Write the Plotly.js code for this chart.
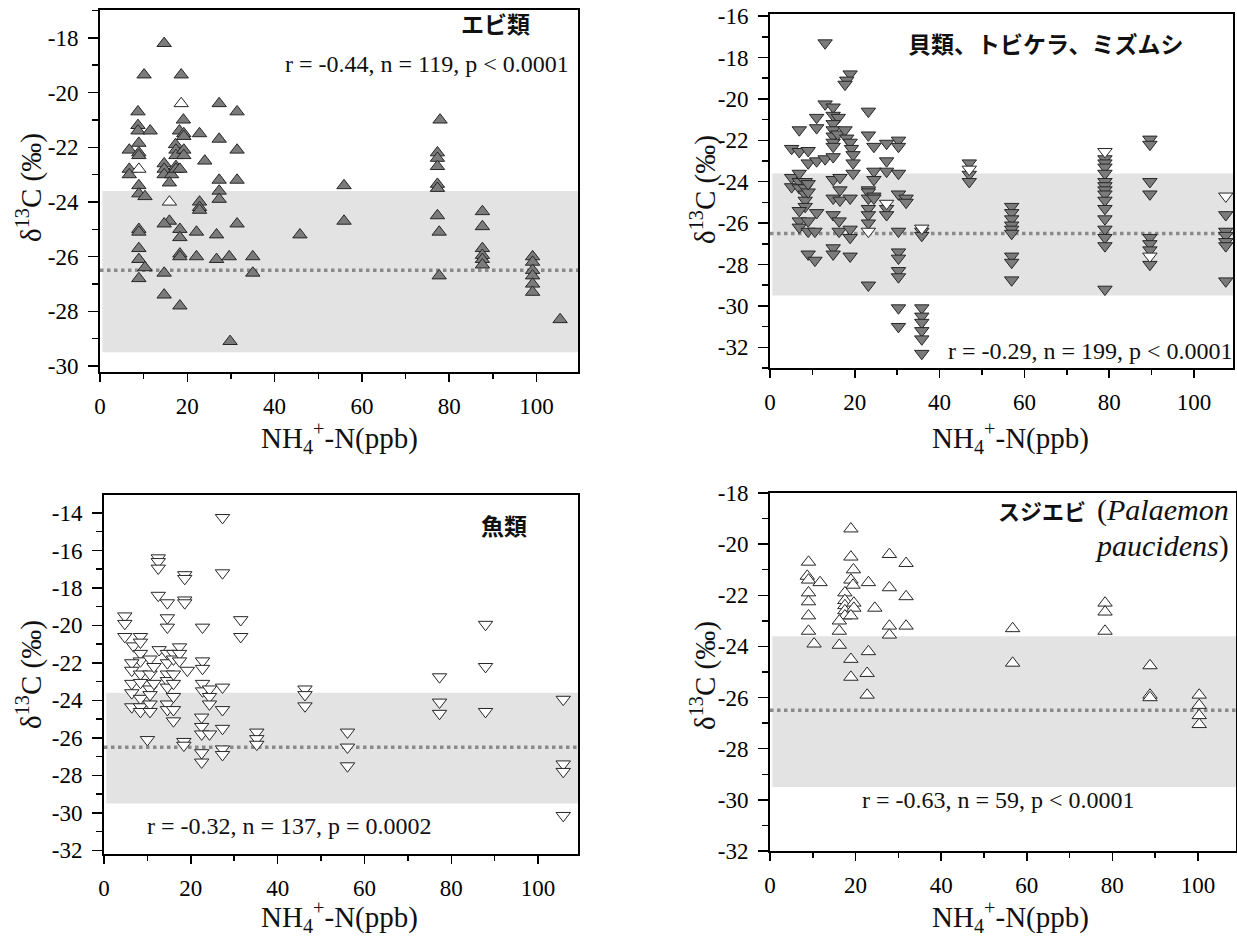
<!DOCTYPE html>
<html><head><meta charset="utf-8">
<script src="https://cdn.plot.ly/plotly-3.0.1.min.js"></script>
<style>html,body{margin:0;padding:0;background:#fff}#chart{width:1237px;height:946px}</style>
</head><body><div id="chart"></div>
<script>
// ---- Panel 1: エビ類 (filled up-triangles, a few open) ----
const p1FilledX = [14.7,10.1,18.6,27.3,31.4,8.7,8.7,8.7,11.5,19.1,18.2,19.2,19.2,22.8,27.3,31.4,6.7,8.9,8.9,8.9,17.3,17.4,17.4,19.2,19.2,24,6.7,6.7,14.7,14.7,14.7,16.4,17.4,17.4,18.3,15.9,27.3,31.4,8.9,8.9,10.3,27.3,27.3,22.8,22.8,22.8,15.9,14.7,18.3,18.3,8.9,8.9,22.1,26.7,31.4,45.8,8.9,8.9,10.3,8.9,14.7,14.7,18.3,18.3,18.3,22.1,26.7,29.6,35,35,29.8,55.9,55.9,77.9,77.3,77.3,77.3,77.3,77.3,77.3,77.7,77.7,87.6,87.6,87.6,87.6,87.6,87.6,99.1,99.1,99.1,99.1,99.1,99.1,105.4];
const p1FilledY = [-18.2,-19.35,-19.35,-20.4,-20.7,-20.7,-21.2,-21.4,-21.4,-21.0,-21.4,-21.5,-21.6,-21.5,-21.7,-22.1,-22.1,-21.85,-22.2,-22.3,-21.9,-22.1,-22.3,-22.1,-22.3,-22.5,-22.8,-23.0,-22.6,-22.8,-23.0,-23.0,-22.7,-22.8,-22.8,-23.3,-23.2,-23.2,-23.4,-23.7,-23.8,-23.6,-23.9,-24.0,-24.2,-24.3,-24.7,-24.8,-25.0,-25.3,-25.0,-25.1,-25.1,-25.2,-24.8,-25.2,-25.7,-26.1,-26.4,-26.8,-26.6,-27.4,-25.9,-26.0,-27.8,-26.0,-26.1,-26.0,-26.0,-26.6,-29.1,-23.4,-24.7,-21.0,-22.2,-22.4,-22.7,-23.35,-23.5,-24.5,-25.1,-26.7,-24.35,-24.9,-25.7,-25.95,-26.1,-26.3,-26.0,-26.2,-26.5,-26.7,-27.0,-27.3,-28.3];
const p1OpenX = [18.6,8.9,15.9];
const p1OpenY = [-20.4,-22.8,-24.0];

// ---- Panel 2: 貝類、トビケラ、ミズムシ (filled down-triangles, a few open) ----
const p2FilledX = [13.0,18.9,18.1,17.7,13.0,14.9,11,11,6.9,23.2,23.2,24.5,14.9,16.1,14.9,14.9,14.9,14.9,14.9,16,17.7,18.1,18.9,19.2,19.6,19.6,19.6,5.1,6.9,9,9,11,13,14.9,27.5,30.3,30.3,27.5,27.5,30.3,24.5,24.5,23.2,23.2,23.2,23.2,23.2,23.2,24.5,24.5,5.1,5.1,6.9,6.9,6.9,8.3,8.3,8.3,8.3,8.3,9,9,6.9,6.9,6.9,9,9,11,10.6,9,10.6,14.9,14.9,14.9,14.9,14.9,16.5,16.5,16.5,16.3,16.3,18.9,18.9,18.9,18.9,23.2,27.5,27.5,30.3,30.3,30.3,30.3,30.3,30.3,30.3,30.3,32.1,32.1,35.8,35.8,35.8,35.8,35.8,35.8,35.8,35.8,47,47,47,57,57,57,57,57,57,57,57,57,79,79,79,79,79,79,79,79,79,79,79,79,79,79,79,89.6,89.6,89.6,89.6,89.6,89.6,89.6,89.6,107.5,107.5,107.5,107.5,107.5,107.5];
const p2FilledY = [-17.3,-18.8,-19.1,-19.3,-20.25,-20.4,-20.9,-21.4,-21.5,-20.6,-21.75,-22.3,-20.8,-20.9,-21.2,-21.5,-21.8,-22.1,-22.3,-21.7,-21.5,-21.9,-22.1,-22.4,-22.7,-23.1,-23.6,-22.4,-22.55,-22.5,-23.1,-23.0,-22.9,-22.8,-22.15,-22.0,-22.3,-23.0,-23.5,-23.6,-23.5,-23.9,-24.4,-24.5,-24.8,-25.3,-25.6,-26.0,-24.7,-24.8,-23.8,-24.25,-23.6,-24.0,-24.3,-24.0,-24.3,-24.6,-24.9,-25.2,-24.5,-24.1,-25.4,-25.9,-26.2,-25.9,-26.4,-25.5,-26.4,-27.5,-27.8,-23.9,-24.8,-25.6,-27.2,-27.5,-23.8,-24.4,-24.9,-25.9,-26.4,-24.8,-26.3,-26.7,-27.6,-29.0,-25.3,-25.6,-24.6,-26.4,-27.4,-27.7,-28.3,-28.6,-30.1,-31.0,-24.8,-25.0,-26.4,-26.6,-30.1,-30.5,-30.8,-31.2,-31.6,-32.3,-23.1,-23.65,-24.0,-25.2,-25.5,-25.8,-26.1,-26.3,-26.5,-27.6,-27.9,-28.75,-22.9,-23.1,-23.3,-23.6,-24.0,-24.2,-24.4,-24.6,-24.9,-25.3,-25.8,-26.3,-26.7,-27.1,-29.2,-21.95,-22.2,-24.0,-24.6,-26.7,-27.0,-27.3,-28.0,-25.6,-26.4,-26.6,-26.9,-27.1,-28.8];
const p2OpenX = [27.5,23.2,35.8,47,79,89.6,107.5];
const p2OpenY = [-25.05,-26.4,-26.25,-23.4,-22.55,-27.6,-24.7];

// ---- Panel 3: 魚類 (open down-triangles) ----
const p3X = [27.3,27.3,12.5,12.5,12.5,18.6,18.6,18.6,18.6,12.5,14.6,14.6,14.6,31.5,31.5,22.7,4.8,4.8,4.8,6.8,8.4,8.4,8.4,8.4,6.4,6.4,6.4,6.4,6.4,8.4,8.4,8.4,8.4,8.4,10.6,10.6,10.6,10.6,10.6,10.6,11.5,11.5,12.7,14.6,14.6,14.6,14.6,14.6,14.6,14.6,16,16,16,16,16,16,16,17.4,17.4,17.4,19.2,10,18.4,18.4,22.7,22.7,22.7,22.7,24.3,24.3,24.3,27.3,27.3,27.3,22.5,22.5,22.5,24.3,22.5,22.5,27.3,27.3,35.2,35.2,35.2,46.3,46.3,46.3,56.1,56.1,56.1,77.3,77.3,77.3,87.9,87.9,87.9,105.8,105.8,105.8,105.8];
const p3Y = [-14.25,-17.2,-16.4,-16.6,-16.95,-17.3,-17.5,-18.65,-18.8,-18.4,-18.8,-19.6,-20.1,-19.7,-20.6,-20.1,-19.5,-19.9,-20.6,-21.1,-20.6,-20.9,-21.5,-21.9,-22.0,-22.4,-23.1,-23.6,-24.35,-22.6,-23.05,-23.9,-24.35,-24.6,-21.8,-22.6,-23.4,-23.7,-24.2,-24.6,-22.2,-23.1,-21.3,-21.5,-22.0,-22.6,-22.95,-23.3,-24.2,-24.5,-21.5,-21.8,-22.6,-23.1,-23.8,-24.5,-25.1,-21.15,-21.5,-21.9,-22.4,-26.1,-26.2,-26.4,-21.9,-22.3,-23.1,-23.5,-23.4,-23.8,-24.2,-23.3,-24.5,-25.5,-24.9,-25.4,-25.8,-25.8,-26.8,-27.3,-26.6,-26.9,-25.7,-26.05,-26.35,-23.4,-23.7,-24.3,-25.7,-26.5,-27.5,-22.75,-24.1,-24.7,-19.95,-22.2,-24.6,-23.95,-27.4,-27.8,-30.15];

// ---- Panel 4: スジエビ (open up-triangles) ----
const p4X = [18.9,18.9,19.5,18.9,19.4,17.5,17.5,17.5,17.5,17.5,19.6,19.6,18.9,16.2,16.2,16.2,9,8.7,9,11.7,9,9,9,9,10.3,23,24.5,27.9,27.9,27.9,27.9,31.8,31.8,31.8,23,18.9,18.9,22.7,22.7,56.7,56.7,78.3,78.3,78.3,88.8,88.8,88.8,100.3,100.3,100.3,100.3];
const p4Y = [-19.4,-20.5,-21.0,-21.4,-21.6,-21.9,-22.2,-22.4,-22.6,-22.8,-22.3,-22.5,-22.8,-23.0,-23.4,-23.95,-20.7,-21.25,-21.4,-21.5,-21.9,-22.25,-22.8,-23.4,-23.9,-21.5,-22.5,-20.4,-21.7,-23.2,-23.55,-20.75,-22.05,-23.2,-24.2,-24.5,-25.2,-25.05,-25.9,-23.3,-24.65,-22.3,-22.65,-23.4,-24.75,-25.9,-26.0,-25.9,-26.3,-26.7,-27.05];

// Reference band and mean line (δ13C, ‰)
const bandLow = -29.5, bandHigh = -23.6, meanLine = -26.5;

const panelTitles = ['エビ類','貝類、トビケラ、ミズムシ','魚類','スジエビ'];
const speciesLine1 = '(<i>Palaemon</i>';
const speciesLine2 = '<i>paucidens</i>)';
const statTexts = ['r = -0.44, n = 119, p < 0.0001','r = -0.29, n = 199, p < 0.0001','r = -0.32, n = 137, p = 0.0002','r = -0.63, n = 59, p < 0.0001'];
const xTickVals = [0,20,40,60,80,100];
const yTicks1 = [-30,-28,-26,-24,-22,-20,-18];
const yTicks2 = [-32,-30,-28,-26,-24,-22,-20,-18,-16];
const yTicks3 = [-32,-30,-28,-26,-24,-22,-20,-18,-16,-14];
const yTicks4 = [-32,-30,-28,-26,-24,-22,-20,-18];

const W = 1237, H = 946;
const fx = p => p / W, fy = p => 1 - p / H;
const SERIF = '"Liberation Serif", "Times New Roman", serif';
const CJK = '"Noto Sans CJK JP", sans-serif';

const FILL = '#7b7b7b', EDGE = '#262626';
function tr(x, y, sym, filled, ax) {
  return {x: x, y: y, type: 'scatter', mode: 'markers', xaxis: 'x' + ax, yaxis: 'y' + ax,
    marker: {symbol: sym, size: 12.5, color: filled ? FILL : '#ffffff', line: {color: EDGE, width: 1}},
    showlegend: false, hoverinfo: 'x+y', cliponaxis: false};
}
const data = [
  tr(p1FilledX, p1FilledY, 'triangle-up', true, ''),
  tr(p1OpenX, p1OpenY, 'triangle-up', false, ''),
  tr(p2FilledX, p2FilledY, 'triangle-down', true, '2'),
  tr(p2OpenX, p2OpenY, 'triangle-down', false, '2'),
  tr(p3X, p3Y, 'triangle-down', false, '3'),
  tr(p4X, p4Y, 'triangle-up', false, '4')
];

function tickFont() { return {family: SERIF, size: 23, color: '#000'}; }
function xa(dom, rng, anchor) {
  return {domain: dom, range: rng, anchor: anchor, tickmode: 'array', tickvals: xTickVals, ticktext: xTickVals.map(String),
    ticks: 'outside', ticklen: 8, tickwidth: 1.5, tickcolor: '#000', ticklabelstandoff: 4,
    minor: {dtick: 10, tick0: 0, ticks: 'outside', ticklen: 5, tickwidth: 1.5, tickcolor: '#000', showgrid: false},
    showline: true, linecolor: '#000', linewidth: 2, mirror: true, showgrid: false, zeroline: false,
    tickfont: tickFont(), fixedrange: true};
}
function ya(dom, rng, tv, anchor) {
  return {domain: dom, range: rng, tickmode: 'array', tickvals: tv, ticktext: tv.map(String), anchor: anchor,
    ticks: 'outside', ticklen: 10, tickwidth: 1.5, tickcolor: '#000', ticklabelstandoff: 5,
    minor: {dtick: 1, tick0: 0, ticks: 'outside', ticklen: 6, tickwidth: 1.5, tickcolor: '#000', showgrid: false},
    showline: true, linecolor: '#000', linewidth: 2, mirror: true, showgrid: false, zeroline: false,
    tickfont: tickFont(), fixedrange: true};
}

const layout = {
  width: W, height: H, margin: {l: 0, r: 0, t: 0, b: 0}, paper_bgcolor: '#fff', plot_bgcolor: '#fff',
  font: {family: SERIF, size: 23, color: '#000'},
  xaxis: xa([fx(100), fx(578)], [0, 109.5], 'y'),
  yaxis: ya([fy(372), fy(10)], [-30.22, -16.98], yTicks1, 'x'),
  xaxis2: xa([fx(770), fx(1233)], [0, 109.2], 'y2'),
  yaxis2: ya([fy(368), fy(14)], [-33.0, -15.9], yTicks2, 'x2'),
  xaxis3: xa([fx(104), fx(578)], [0, 109.2], 'y3'),
  yaxis3: ya([fy(854), fy(495)], [-32.2, -13.04], yTicks3, 'x3'),
  xaxis4: xa([fx(770), fx(1236)], [0, 108.9], 'y4'),
  yaxis4: ya([fy(851), fy(493)], [-32.0, -18.0], yTicks4, 'x4'),
  shapes: [], annotations: []
};
['', '2', '3', '4'].forEach(s => {
  layout.shapes.push({type: 'rect', layer: 'below', xref: 'x' + s + ' domain', yref: 'y' + s,
    x0: 0.005, x1: 1, y0: bandLow, y1: bandHigh, fillcolor: '#e3e3e3', line: {width: 0}});
  layout.shapes.push({type: 'line', layer: 'below', xref: 'x' + s + ' domain', yref: 'y' + s,
    x0: 0, x1: 1, y0: meanLine, y1: meanLine, line: {color: '#8a8a8a', width: 3.5, dash: 'dot'}});
});

function ann(text, x, y, opts) {
  return Object.assign({text: text, xref: 'paper', yref: 'paper', x: fx(x), y: fy(y), showarrow: false,
    xanchor: 'center', yanchor: 'middle', font: {family: SERIF, size: 24, color: '#111'}}, opts || {});
}
const cjkFont = {family: CJK, size: 23, color: '#111', weight: 'bold'};
layout.annotations.push(
  ann('<b>' + panelTitles[0] + '</b>', 495, 23, {font: cjkFont}),
  ann(statTexts[0], 427, 64),
  ann('<b>' + panelTitles[1] + '</b>', 1046, 43, {font: cjkFont}),
  ann(statTexts[1], 1090, 351),
  ann('<b>' + panelTitles[2] + '</b>', 504, 525, {font: cjkFont}),
  ann(statTexts[2], 289, 826),
  ann('<b>' + panelTitles[3] + '</b>', 1088, 510, {xanchor: 'right', font: {family: CJK, size: 22, color: '#111', weight: 'bold'}}),
  ann(speciesLine1, 1231, 510, {xanchor: 'right', font: {family: SERIF, size: 30, color: '#111'}}),
  ann(speciesLine2, 1231, 546, {xanchor: 'right', font: {family: SERIF, size: 30, color: '#111'}}),
  ann(statTexts[3], 998, 800)
);
const yt = 'δ<sup>13</sup>C (‰)';
const xt = 'NH<sub>4</sub><sup>+</sup>-N(ppb)';
const tFont = {family: SERIF, size: 29, color: '#111'};
[[29, 188], [703, 190], [29, 675], [703, 676]].forEach(p => layout.annotations.push(ann(yt, p[0], p[1], {textangle: -90, font: tFont})));
[[340, 438], [1010, 438], [340, 917], [1010, 917]].forEach(p => layout.annotations.push(ann(xt, p[0], p[1], {font: tFont})));

Plotly.newPlot('chart', data, layout, {displayModeBar: false, staticPlot: true});
</script>
</body></html>
